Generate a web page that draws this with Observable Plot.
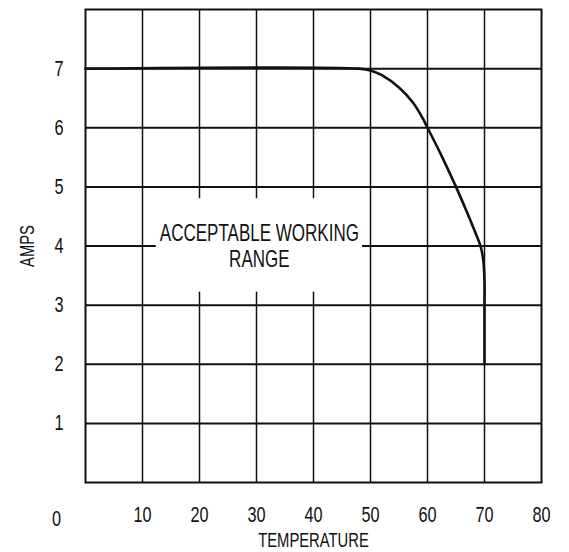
<!DOCTYPE html>
<html>
<head>
<meta charset="utf-8">
<script src="https://cdn.jsdelivr.net/npm/d3@7"></script>
<script src="https://cdn.jsdelivr.net/npm/@observablehq/plot@0.6"></script>
<style>
  html, body { margin: 0; padding: 0; background: #fff; }
  #chart svg { display: block; }
</style>
</head>
<body>
<div id="chart"></div>
<script>
// Temperature / amps curve
const temperature = [0, 48, 50, 52, 55, 57.4, 59.1, 60, 62.6, 65, 66.8, 68.3, 69.3, 69.8, 70, 70, 70];
const amps        = [7, 7, 6.97, 6.89, 6.68, 6.43, 6.17, 6.0, 5.5, 5.0, 4.6, 4.25, 4.0, 3.75, 3.4, 3.0, 2.0];

const xTicks = [10, 20, 30, 40, 50, 60, 70, 80];
const yTicks = [1, 2, 3, 4, 5, 6, 7];
const xGrid = [10, 20, 30, 40, 50, 60, 70];
const yGrid = [1, 2, 3, 4, 5, 6, 7];
const originLabel = ["0"];
const xLabel = "TEMPERATURE";
const yLabel = "AMPS";

// Annotation inside the chart (data coordinates) and the blank box behind it
const annotation = [{x: 30.5, y: 4.0, text: "ACCEPTABLE WORKING\nRANGE"}];
const annotationBox = [{x1: 12.4, x2: 48.6, y1: 3.22, y2: 4.8}];

const curve = temperature.map((t, i) => ({t, a: amps[i]}));

const font = "'Liberation Sans', Arial, sans-serif";
const ink = "#111";
const fmt = d => String(d);

const chart = Plot.plot({
  width: 569,
  height: 552,
  marginLeft: 85,
  marginRight: 28,
  marginTop: 9,
  marginBottom: 70,
  style: {fontFamily: font, color: ink, background: "#fff"},
  x: {domain: [0, 80], axis: null},
  y: {domain: [0, 8], axis: null},
  marks: [
    Plot.ruleX(xGrid, {stroke: ink, strokeWidth: 1.5}),
    Plot.ruleY(yGrid, {stroke: ink, strokeWidth: 2}),
    Plot.rect(annotationBox, {x1: "x1", x2: "x2", y1: "y1", y2: "y2", fill: "#fff"}),
    Plot.frame({stroke: ink, strokeWidth: 2}),
    Plot.text(annotation, {x: "x", y: "y", text: "text", fontSize: 23, fill: ink, lineHeight: 1.1}),
    Plot.line(curve, {x: "t", y: "a", stroke: ink, strokeWidth: 2.6, curve: "catmull-rom"}),
    Plot.axisX(xTicks, {tickSize: 0, tickPadding: 24, fontSize: 22, fill: ink, tickFormat: fmt, label: null}),
    Plot.axisY(yTicks, {tickSize: 0, tickPadding: 22, fontSize: 22, fill: ink, tickFormat: fmt, label: null}),
    Plot.text(originLabel, {x: () => 0, y: () => 0, text: d => d, dx: -29, dy: 36, fontSize: 22, fill: ink}),
    Plot.text([xLabel], {frameAnchor: "bottom", text: d => d, dy: 58, lineAnchor: "middle", textAnchor: "middle", fontSize: 20, fill: ink}),
    Plot.text([yLabel], {frameAnchor: "left", text: d => d, dx: -58, rotate: -90, lineAnchor: "middle", textAnchor: "middle", fontSize: 20, fill: ink})
  ]
});

// condense all lettering horizontally, like the narrow drafting lettering of the original
d3.select(chart).selectAll("text").each(function () {
  const t = this.getAttribute("transform") || "";
  this.setAttribute("transform", (t + " scale(0.74,1)").trim());
});

document.getElementById("chart").append(chart);
</script>
</body>
</html>
